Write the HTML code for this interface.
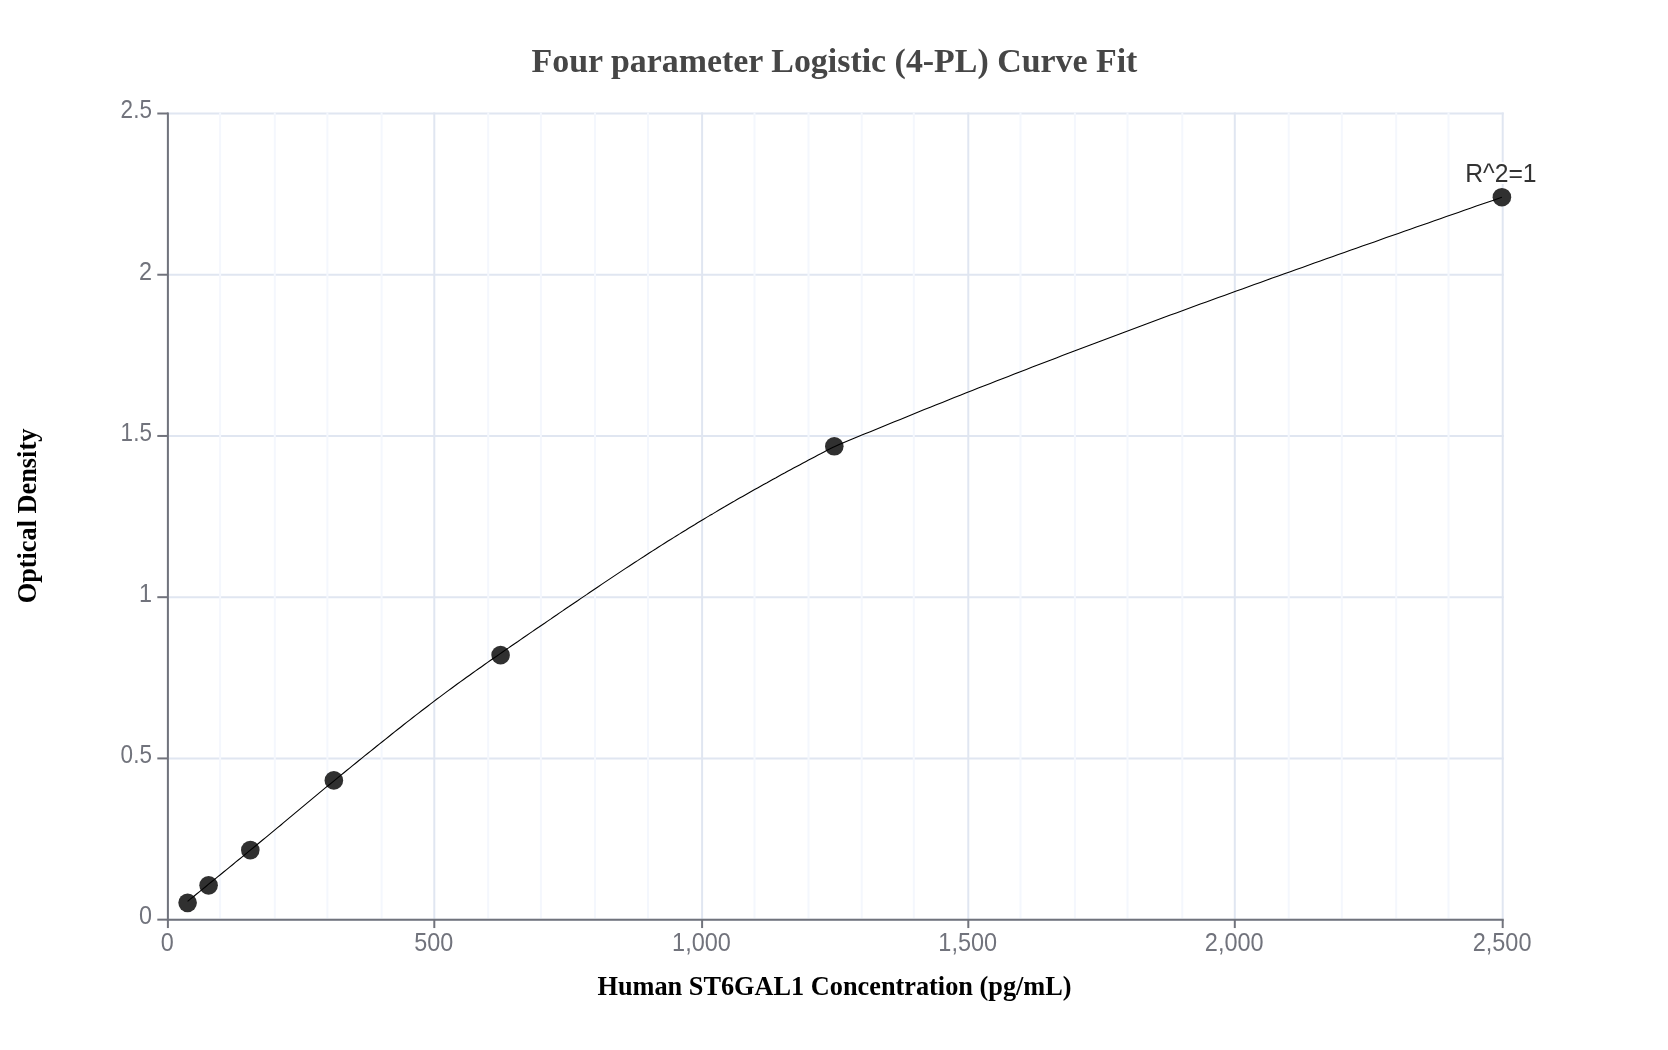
<!DOCTYPE html>
<html lang="en"><head><meta charset="utf-8"><title>Four parameter Logistic (4-PL) Curve Fit</title>
<style>html,body{margin:0;padding:0;background:#fff;}body{width:1668px;height:1050px;overflow:hidden;}svg{display:block;}</style>
</head><body>
<svg width="1668" height="1050" viewBox="0 0 1668 1050" style="will-change:transform">
<rect width="1668" height="1050" fill="#fff"/>
<g stroke="#E0E6F1" stroke-width="2">
<line x1="167.9" y1="919.65" x2="1503.7" y2="919.65"/>
<line x1="167.9" y1="758.42" x2="1503.7" y2="758.42"/>
<line x1="167.9" y1="597.19" x2="1503.7" y2="597.19"/>
<line x1="167.9" y1="435.96" x2="1503.7" y2="435.96"/>
<line x1="167.9" y1="274.73" x2="1503.7" y2="274.73"/>
<line x1="167.9" y1="113.50" x2="1503.7" y2="113.50"/>
</g>
<g stroke="#E0E6F1" stroke-width="2">
<line x1="167.9" y1="112.5" x2="167.9" y2="919.65"/>
<line x1="434.3" y1="112.5" x2="434.3" y2="919.65"/>
<line x1="702.1" y1="112.5" x2="702.1" y2="919.65"/>
<line x1="968.3" y1="112.5" x2="968.3" y2="919.65"/>
<line x1="1234.8" y1="112.5" x2="1234.8" y2="919.65"/>
<line x1="1502.7" y1="112.5" x2="1502.7" y2="919.65"/>
</g>
<g stroke="#F4F7FD" stroke-width="2">
<line x1="220.1" y1="112.5" x2="220.1" y2="919.65"/>
<line x1="274.8" y1="112.5" x2="274.8" y2="919.65"/>
<line x1="327.4" y1="112.5" x2="327.4" y2="919.65"/>
<line x1="381.6" y1="112.5" x2="381.6" y2="919.65"/>
<line x1="488.2" y1="112.5" x2="488.2" y2="919.65"/>
<line x1="540.9" y1="112.5" x2="540.9" y2="919.65"/>
<line x1="595.0" y1="112.5" x2="595.0" y2="919.65"/>
<line x1="648.0" y1="112.5" x2="648.0" y2="919.65"/>
<line x1="754.5" y1="112.5" x2="754.5" y2="919.65"/>
<line x1="808.5" y1="112.5" x2="808.5" y2="919.65"/>
<line x1="861.7" y1="112.5" x2="861.7" y2="919.65"/>
<line x1="913.8" y1="112.5" x2="913.8" y2="919.65"/>
<line x1="1020.5" y1="112.5" x2="1020.5" y2="919.65"/>
<line x1="1074.9" y1="112.5" x2="1074.9" y2="919.65"/>
<line x1="1127.5" y1="112.5" x2="1127.5" y2="919.65"/>
<line x1="1182.3" y1="112.5" x2="1182.3" y2="919.65"/>
<line x1="1288.7" y1="112.5" x2="1288.7" y2="919.65"/>
<line x1="1341.8" y1="112.5" x2="1341.8" y2="919.65"/>
<line x1="1396.2" y1="112.5" x2="1396.2" y2="919.65"/>
<line x1="1448.5" y1="112.5" x2="1448.5" y2="919.65"/>
</g>
<g stroke="#71737C" stroke-width="2">
<line x1="167.9" y1="112.5" x2="167.9" y2="920.65"/>
<line x1="166.9" y1="919.65" x2="1503.7" y2="919.65"/>
<line x1="157.3" y1="919.65" x2="167.9" y2="919.65"/>
<line x1="157.3" y1="758.42" x2="167.9" y2="758.42"/>
<line x1="157.3" y1="597.19" x2="167.9" y2="597.19"/>
<line x1="157.3" y1="435.96" x2="167.9" y2="435.96"/>
<line x1="157.3" y1="274.73" x2="167.9" y2="274.73"/>
<line x1="157.3" y1="113.50" x2="167.9" y2="113.50"/>
<line x1="167.9" y1="919.65" x2="167.9" y2="928.05"/>
<line x1="434.3" y1="919.65" x2="434.3" y2="928.05"/>
<line x1="702.1" y1="919.65" x2="702.1" y2="928.05"/>
<line x1="968.3" y1="919.65" x2="968.3" y2="928.05"/>
<line x1="1234.8" y1="919.65" x2="1234.8" y2="928.05"/>
<line x1="1502.7" y1="919.65" x2="1502.7" y2="928.05"/>
</g>
<g font-family="'Liberation Sans', Arial, sans-serif" font-size="24.6" fill="#71737C">
<text transform="translate(151.9 924.4) scale(0.95 1.05)" text-anchor="end">0</text>
<text transform="translate(151.9 763.2) scale(0.915 1.05)" text-anchor="end">0.5</text>
<text transform="translate(151.9 602.0) scale(0.95 1.05)" text-anchor="end">1</text>
<text transform="translate(151.9 440.8) scale(0.915 1.05)" text-anchor="end">1.5</text>
<text transform="translate(151.9 279.5) scale(0.95 1.05)" text-anchor="end">2</text>
<text transform="translate(151.9 118.3) scale(0.915 1.05)" text-anchor="end">2.5</text>
<text transform="translate(167.3 951) scale(0.95 1.05)" text-anchor="middle">0</text>
<text transform="translate(433.7 951) scale(0.95 1.05)" text-anchor="middle">500</text>
<text transform="translate(701.5 951) scale(0.955 1.05)" text-anchor="middle">1,000</text>
<text transform="translate(967.7 951) scale(0.955 1.05)" text-anchor="middle">1,500</text>
<text transform="translate(1234.2 951) scale(0.955 1.05)" text-anchor="middle">2,000</text>
<text transform="translate(1502.1 951) scale(0.955 1.05)" text-anchor="middle">2,500</text>
</g>
<g fill="#303030">
<circle cx="187.6" cy="902.85" r="9.3"/>
<circle cx="208.6" cy="885.35" r="9.3"/>
<circle cx="250.3" cy="850.1" r="9.3"/>
<circle cx="333.85" cy="780.4" r="9.3"/>
<circle cx="500.6" cy="655.1" r="9.3"/>
<circle cx="834.3" cy="446.3" r="9.3"/>
<circle cx="1501.9" cy="197.2" r="9.3"/>
</g>
<path d="M187.6 901.4 L190.6 898.9 L193.6 896.5 L196.6 894.0 L199.6 891.6 L202.6 889.1 L205.6 886.7 L208.6 884.2 L211.6 881.8 L214.6 879.4 L217.6 876.9 L220.6 874.5 L223.6 872.0 L226.6 869.6 L229.6 867.1 L232.6 864.7 L235.6 862.2 L238.6 859.8 L241.6 857.3 L244.6 854.8 L247.6 852.4 L250.6 849.9 L253.6 847.5 L256.6 845.0 L259.6 842.5 L262.6 840.0 L265.6 837.6 L268.6 835.1 L271.6 832.6 L274.6 830.1 L277.6 827.6 L280.6 825.2 L283.6 822.7 L286.6 820.2 L289.6 817.7 L292.6 815.2 L295.6 812.7 L298.6 810.2 L301.6 807.7 L304.6 805.2 L307.6 802.7 L310.6 800.2 L313.6 797.7 L316.6 795.2 L319.6 792.7 L322.6 790.2 L325.6 787.7 L328.6 785.3 L331.6 782.8 L334.6 780.3 L337.6 777.9 L340.6 775.4 L343.6 773.0 L346.6 770.5 L349.6 768.1 L352.6 765.6 L355.6 763.2 L358.6 760.8 L361.6 758.3 L364.6 755.9 L367.6 753.5 L370.6 751.1 L373.6 748.7 L376.6 746.3 L379.6 743.9 L382.6 741.5 L385.6 739.1 L388.6 736.7 L391.6 734.3 L394.6 731.9 L397.6 729.5 L400.6 727.2 L403.6 724.8 L406.6 722.4 L409.6 720.1 L412.6 717.7 L415.6 715.4 L418.6 713.1 L421.6 710.8 L424.6 708.5 L427.6 706.2 L430.6 703.9 L433.6 701.6 L436.6 699.3 L439.6 697.1 L442.6 694.9 L445.6 692.6 L448.6 690.4 L451.6 688.2 L454.6 686.0 L457.6 683.8 L460.6 681.6 L463.6 679.5 L466.6 677.3 L469.6 675.2 L472.6 673.0 L475.6 670.9 L478.6 668.8 L481.6 666.7 L484.6 664.5 L487.6 662.4 L490.6 660.3 L493.6 658.2 L496.6 656.2 L499.6 654.1 L502.6 652.0 L505.6 649.9 L508.6 647.9 L511.6 645.8 L514.6 643.7 L517.6 641.7 L520.6 639.6 L523.6 637.5 L526.6 635.5 L529.6 633.4 L532.6 631.4 L535.6 629.3 L538.6 627.3 L541.6 625.2 L544.6 623.2 L547.6 621.1 L550.6 619.1 L553.6 617.0 L556.6 615.0 L559.6 612.9 L562.6 610.9 L565.6 608.8 L568.6 606.8 L571.6 604.7 L574.6 602.7 L577.6 600.7 L580.6 598.6 L583.6 596.6 L586.6 594.6 L589.6 592.5 L592.6 590.5 L595.6 588.5 L598.6 586.5 L601.6 584.4 L604.6 582.4 L607.6 580.4 L610.6 578.4 L613.6 576.4 L616.6 574.4 L619.6 572.4 L622.6 570.4 L625.6 568.4 L628.6 566.5 L631.6 564.5 L634.6 562.5 L637.6 560.6 L640.6 558.6 L643.6 556.7 L646.6 554.7 L649.6 552.8 L652.6 550.9 L655.6 549.0 L658.6 547.0 L661.6 545.1 L664.6 543.2 L667.6 541.3 L670.6 539.5 L673.6 537.6 L676.6 535.7 L679.6 533.9 L682.6 532.0 L685.6 530.2 L688.6 528.3 L691.6 526.5 L694.6 524.7 L697.6 522.8 L700.6 521.0 L703.6 519.2 L706.6 517.4 L709.6 515.6 L712.6 513.9 L715.6 512.1 L718.6 510.3 L721.6 508.5 L724.6 506.8 L727.6 505.0 L730.6 503.3 L733.6 501.6 L736.6 499.8 L739.6 498.1 L742.6 496.4 L745.6 494.7 L748.6 493.0 L751.6 491.3 L754.6 489.6 L757.6 487.9 L760.6 486.2 L763.6 484.5 L766.6 482.9 L769.6 481.2 L772.6 479.5 L775.6 477.9 L778.6 476.2 L781.6 474.6 L784.6 473.0 L787.6 471.3 L790.6 469.7 L793.6 468.1 L796.6 466.5 L799.6 464.9 L802.6 463.3 L805.6 461.7 L808.6 460.1 L811.6 458.5 L814.6 456.9 L817.6 455.3 L820.6 453.8 L823.6 452.2 L826.6 450.6 L829.6 449.1 L832.6 447.5 L834.3 446.7 L840.3 444.1 L846.3 441.6 L852.3 439.1 L858.3 436.6 L864.3 434.1 L870.3 431.7 L876.3 429.2 L882.3 426.7 L888.3 424.3 L894.3 421.8 L900.3 419.4 L906.3 416.9 L912.3 414.5 L918.3 412.0 L924.3 409.6 L930.3 407.2 L936.3 404.8 L942.3 402.4 L948.3 400.0 L954.3 397.6 L960.3 395.2 L966.3 392.8 L972.3 390.5 L978.3 388.1 L984.3 385.8 L990.3 383.4 L996.3 381.0 L1002.3 378.7 L1008.3 376.4 L1014.3 374.0 L1020.3 371.7 L1026.3 369.4 L1032.3 367.1 L1038.3 364.8 L1044.3 362.5 L1050.3 360.2 L1056.3 357.9 L1062.3 355.6 L1068.3 353.3 L1074.3 351.0 L1080.3 348.7 L1086.3 346.5 L1092.3 344.2 L1098.3 341.9 L1104.3 339.7 L1110.3 337.4 L1116.3 335.2 L1122.3 332.9 L1128.3 330.7 L1134.3 328.5 L1140.3 326.2 L1146.3 324.0 L1152.3 321.8 L1158.3 319.6 L1164.3 317.3 L1170.3 315.1 L1176.3 312.9 L1182.3 310.7 L1188.3 308.5 L1194.3 306.3 L1200.3 304.1 L1206.3 302.0 L1212.3 299.8 L1218.3 297.6 L1224.3 295.4 L1230.3 293.2 L1236.3 291.1 L1242.3 288.9 L1248.3 286.7 L1254.3 284.6 L1260.3 282.4 L1266.3 280.3 L1272.3 278.1 L1278.3 275.9 L1284.3 273.8 L1290.3 271.7 L1296.3 269.5 L1302.3 267.4 L1308.3 265.2 L1314.3 263.1 L1320.3 261.0 L1326.3 258.8 L1332.3 256.7 L1338.3 254.6 L1344.3 252.5 L1350.3 250.3 L1356.3 248.2 L1362.3 246.1 L1368.3 244.0 L1374.3 241.9 L1380.3 239.8 L1386.3 237.6 L1392.3 235.5 L1398.3 233.4 L1404.3 231.3 L1410.3 229.2 L1416.3 227.1 L1422.3 225.0 L1428.3 222.9 L1434.3 220.8 L1440.3 218.7 L1446.3 216.6 L1452.3 214.5 L1458.3 212.4 L1464.3 210.3 L1470.3 208.2 L1476.3 206.1 L1482.3 204.0 L1488.3 201.9 L1494.3 199.9 L1500.3 197.8 L1501.9 197.2" fill="none" stroke="#000" stroke-width="1.1" stroke-linejoin="round"/>
<text transform="translate(1500.9 182) scale(1.005 1.04)" text-anchor="middle" stroke="#fff" stroke-width="4" stroke-linejoin="round" paint-order="stroke" font-family="'Liberation Sans', Arial, sans-serif" font-size="24.6" fill="#333">R^2=1</text>
<text x="834.5" y="72" text-anchor="middle" font-family="'Liberation Serif', 'Times New Roman', serif" font-weight="bold" font-size="33.9" fill="#464646">Four parameter Logistic (4-PL) Curve Fit</text>
<text x="834.5" y="994.5" text-anchor="middle" font-family="'Liberation Serif', 'Times New Roman', serif" font-weight="bold" font-size="26.3" fill="#000">Human ST6GAL1 Concentration (pg/mL)</text>
<text transform="translate(35.5 516) rotate(-90)" text-anchor="middle" font-family="'Liberation Serif', 'Times New Roman', serif" font-weight="bold" font-size="26.3" fill="#000">Optical Density</text>
</svg>
</body></html>
